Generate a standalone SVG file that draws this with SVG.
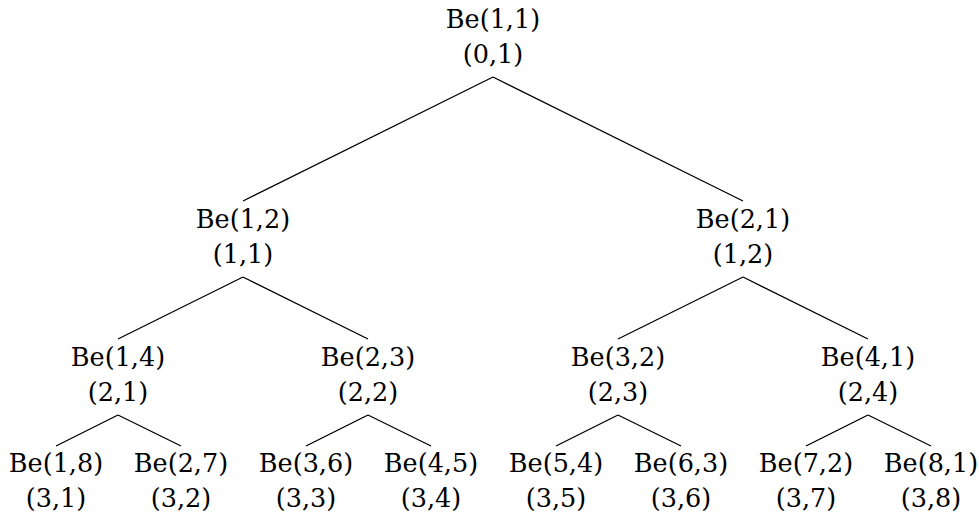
<svg xmlns="http://www.w3.org/2000/svg" width="979" height="519" viewBox="0 0 979 519">
  <style>
    text { font-family: 'DejaVu Serif', 'Liberation Serif', serif; font-size: 25.5px; fill: #000; text-anchor: middle; }
    .edge { stroke: #000; stroke-width: 1.3; fill: none; }
  </style>
  <rect width="979" height="519" fill="#fff"/>

  <!-- tree edges: parent south anchor to child north anchor -->
  <g id="connectors" class="edge">
    <line x1="493" y1="77" x2="243" y2="201"/>
    <line x1="493" y1="77" x2="743" y2="201"/>

    <line x1="243" y1="277" x2="118" y2="339"/>
    <line x1="243" y1="277" x2="368" y2="339"/>
    <line x1="743" y1="277" x2="618" y2="339"/>
    <line x1="743" y1="277" x2="868" y2="339"/>

    <line x1="118" y1="415" x2="56" y2="446"/>
    <line x1="118" y1="415" x2="181" y2="446"/>
    <line x1="368" y1="415" x2="306" y2="446"/>
    <line x1="368" y1="415" x2="431" y2="446"/>
    <line x1="618" y1="415" x2="556" y2="446"/>
    <line x1="618" y1="415" x2="681" y2="446"/>
    <line x1="868" y1="415" x2="806" y2="446"/>
    <line x1="868" y1="415" x2="931" y2="446"/>
  </g>

  <!-- level 0 -->
  <g id="n-0-1"><text x="493" y="28">Be(1,1)</text><text x="493" y="63">(0,1)</text></g>

  <!-- level 1 -->
  <g id="n-1-1"><text x="243" y="228">Be(1,2)</text><text x="243" y="263">(1,1)</text></g>
  <g id="n-1-2"><text x="743" y="228">Be(2,1)</text><text x="743" y="263">(1,2)</text></g>

  <!-- level 2 -->
  <g id="n-2-1"><text x="118" y="366">Be(1,4)</text><text x="118" y="401">(2,1)</text></g>
  <g id="n-2-2"><text x="368" y="366">Be(2,3)</text><text x="368" y="401">(2,2)</text></g>
  <g id="n-2-3"><text x="618" y="366">Be(3,2)</text><text x="618" y="401">(2,3)</text></g>
  <g id="n-2-4"><text x="868" y="366">Be(4,1)</text><text x="868" y="401">(2,4)</text></g>

  <!-- level 3 -->
  <g id="n-3-1"><text x="56" y="472">Be(1,8)</text><text x="56" y="507">(3,1)</text></g>
  <g id="n-3-2"><text x="181" y="472">Be(2,7)</text><text x="181" y="507">(3,2)</text></g>
  <g id="n-3-3"><text x="306" y="472">Be(3,6)</text><text x="306" y="507">(3,3)</text></g>
  <g id="n-3-4"><text x="431" y="472">Be(4,5)</text><text x="431" y="507">(3,4)</text></g>
  <g id="n-3-5"><text x="556" y="472">Be(5,4)</text><text x="556" y="507">(3,5)</text></g>
  <g id="n-3-6"><text x="681" y="472">Be(6,3)</text><text x="681" y="507">(3,6)</text></g>
  <g id="n-3-7"><text x="806" y="472">Be(7,2)</text><text x="806" y="507">(3,7)</text></g>
  <g id="n-3-8"><text x="931" y="472">Be(8,1)</text><text x="931" y="507">(3,8)</text></g>
</svg>
